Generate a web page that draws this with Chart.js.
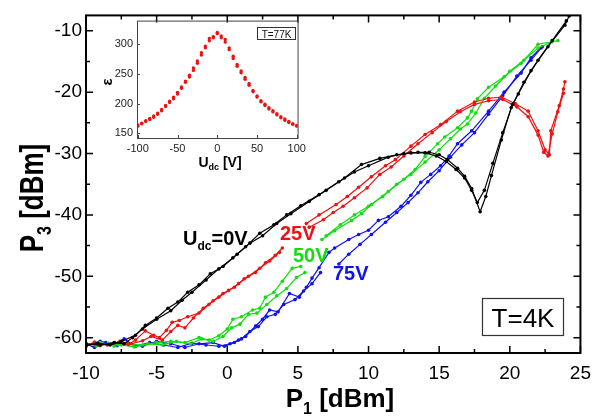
<!DOCTYPE html>
<html>
<head>
<meta charset="utf-8">
<script src="https://cdn.jsdelivr.net/npm/chart.js@4.4.0/dist/chart.umd.min.js"></script>
<style>
  body { margin: 0; background: #fff; }
  #wrap { position: relative; width: 600px; height: 419px; }
  #main { position: absolute; left: 0; top: 0; }
  #inset { position: absolute; left: 90px; top: 10px; }
</style>
</head>
<body>
<div id="wrap">
  <canvas id="main" width="600" height="419"></canvas>
  <canvas id="inset" width="220" height="165"></canvas>
</div>
<script>
// tick values
const xTicks = [-10, -5, 0, 5, 10, 15, 20, 25];
const xMinorTicks = [-7.5, -2.5, 2.5, 7.5, 12.5, 17.5, 22.5];
const yTicks = [-60, -50, -40, -30, -20, -10];
const yMinorTicks = [-55, -45, -35, -25, -15];
const insetXTicks = [-100, -50, 0, 50, 100];
const insetYTicks = [150, 200, 250, 300];

// U_dc = 0V
const blackUpX = [-10, -9, -8, -7.3, -6.7, -6, -5, -4, -3.2, -2.5, -1.5, -0.6, 0.4, 1.3, 2.3, 3.3, 4.2, 5.2, 6.5, 7.9, 9.0, 10, 11.4, 12.5, 13.5, 14.3, 15.0, 15.6, 16.3, 16.8, 17.3, 17.9, 18.3, 18.7, 19.4, 20.1, 20.6, 21.5, 22.7, 23.9, 24.2];
const blackUpY = [-61, -61.2, -60.8, -61, -60, -58.6, -57, -55.6, -53.9, -52.6, -50.6, -48.8, -47.0, -45.2, -43, -41.6, -40, -38.5, -36.7, -34.6, -33.0, -32.0, -30.6, -30.0, -29.8, -29.8, -30.2, -31, -32.4, -33.7, -35.7, -39.5, -37, -33.6, -27.8, -22.5, -20.3, -16.5, -12.6, -9.1, -7.6];
const blackDownX = [-10, -9.2, -8.3, -7.5, -6.5, -5.8, -5, -4.2, -3.5, -2.8, -2, -1.2, -0.3, 0.7, 1.6, 2.5, 3.5, 4.5, 5.8, 7.0, 8.3, 9.5, 10.8, 12.0, 13.0, 14.0, 14.8, 15.5, 16.2, 16.8, 17.3, 17.7, 18.2, 18.8, 19.5, 20.2, 21.0, 22.0, 23.0, 24.0];
const blackDownY = [-61.3, -60.9, -61.2, -60.6, -59.6, -58.0, -56.8, -55.2, -54.2, -52.6, -51.4, -49.6, -48.4, -46.4, -44.6, -43.4, -41.4, -39.8, -37.8, -36.0, -34.0, -31.8, -30.8, -30.2, -29.9, -29.9, -30.4, -31.3, -32.6, -34.0, -36.0, -38.0, -36.0, -31.6, -26.6, -22.0, -18.4, -14.8, -11.6, -8.4];

// U_dc = 25V
const redUpX = [-10, -9, -8, -7, -6.5, -5.8, -5.2, -4.8, -4.3, -3.9, -3.4, -2.8, -2.0, -1.3, -0.6, 0.1, 0.8, 1.5, 2.3, 3.0, 3.7, 4.6, 5.6, 6.5, 7.7, 8.5, 9.3, 10.2, 11.2, 11.9, 13.0, 14.0, 15.1, 16.3, 17.5, 18.5, 19.4, 20.4, 21.3, 22.0, 22.5, 22.8, 22.9, 23.5, 23.8, 23.9];
const redUpY = [-61, -61.3, -60.8, -61.1, -60.4, -58.9, -59.6, -60.0, -58.8, -57.5, -57.2, -56.6, -56.0, -54.6, -53.4, -52.3, -51.2, -50.0, -48.7, -47.5, -46.1, null, -41.4, -40.0, -38.3, -37.0, -35.5, -33.8, -32.0, -31.0, -28.8, -26.9, -25.3, -23.1, -21.6, -21.0, -20.8, -21.9, -23.1, -26.3, -29.4, -30.2, -26.3, -22.2, -19.5, -18.3];
const redDownX = [-10, -9.4, -8.5, -7.6, -6.8, -6.0, -5.4, -4.6, -4.0, -3.5, -3.0, -2.4, -1.7, -1.0, -0.3, 0.5, 1.2, 2.0, 2.7, 3.4, 3.9, 4.8, 5.8, 6.8, 7.5, 8.2, 9.0, 9.9, 10.8, 11.6, 12.5, 13.5, 14.5, 15.5, 16.5, 17.5, 18.5, 19.5, 20.5, 21.3, 22.0, 22.4, 22.7, 23.0, 23.4, 23.8];
const redDownY = [-61.4, -60.7, -61.2, -60.6, -61.0, -60.5, -59.8, -60.4, -59.0, -58.0, -58.4, -56.8, -55.2, -54.0, -52.8, -51.8, -50.4, -49.4, -47.8, -46.6, -45.4, null, -42.0, -40.8, -39.6, -38.6, -37.2, -35.6, -33.4, -32.2, -30.4, -28.4, -26.6, -24.8, -23.2, -22.0, -21.4, -21.2, -22.4, -24.0, -27.0, -29.8, -30.4, -26.8, -23.2, -20.2];

// U_dc = 50V
const greenUpX = [-10, -9, -8, -7, -6, -5, -4, -3, -2, -1.3, -0.6, 0.0, 0.4, 1.0, 1.8, 2.3, 2.7, 3.3, 3.9, 4.6, 5.2, 6.0, 6.7, 7.6, 8.8, 9.5, 10.2, 11.4, 12.5, 13.3, 14.0, 14.9, 15.4, 16.3, 17.0, 17.3, 17.7, 18.5, 19.6, 20.8, 22.0, 23.4];
const greenUpY = [-61.2, -60.8, -61.4, -61.0, -61.2, -60.8, -60.6, -60.8, -60.0, -60.4, -59.7, -58.6, -57.0, -56.6, -55.5, -55.2, -53.4, -52.6, -50.8, -48.7, -48.4, null, -44.0, -42.6, -40.9, -39.8, -38.3, -36.2, -34.2, -32.6, -30.5, -28.4, -27.3, -25.8, -24.2, -23.1, -21.1, -19.2, -17.5, -15.3, -12.2, -11.6];
const greenDownX = [-10, -9.3, -8.4, -7.5, -6.6, -5.6, -4.6, -3.6, -2.6, -1.8, -1.0, -0.3, 0.3, 0.9, 1.5, 2.1, 2.8, 3.5, 4.2, 4.9, 5.5, 6.2, 7.0, 8.0, 9.0, 10.0, 11.0, 12.0, 13.0, 14.0, 15.0, 15.8, 16.5, 17.0, 17.6, 18.2, 19.0, 20.0, 21.0, 22.0, 23.0];
const greenDownY = [-61.0, -61.3, -60.9, -61.2, -61.5, -61.0, -61.2, -60.6, -61.0, -60.2, -60.6, -59.8, -58.4, -57.8, -56.2, -56.0, -54.6, -53.2, -52.0, -50.2, -49.4, null, -43.4, -41.6, -40.0, -38.6, -37.0, -35.0, -33.4, -31.4, -29.4, -27.6, -26.0, -25.2, -23.4, -21.0, -19.0, -16.6, -14.8, -12.8, -11.8];

// U_dc = 75V
const blueUpX = [-10, -9, -8, -7.3, -6.5, -5.5, -4.5, -3.5, -2.5, -1.5, -0.6, 0.2, 0.8, 1.3, 2.0, 2.5, 3.0, 3.6, 4.4, 5.1, 5.6, 6.0, 6.5, 7.2, 7.6, 8.6, 9.3, 10.0, 10.7, 11.4, 12.3, 13.0, 13.7, 14.4, 15.1, 15.7, 16.3, 17.3, 18.5, 19.6, 20.8, 21.5, 22.2];
const blueUpY = [-61.4, -60.6, -61.0, -60.2, -61.4, -60.8, -61.2, -61.6, -60.9, -61.2, -61.4, -61.0, -60.4, -59.8, -58.1, -57.0, -55.5, -55.8, -52.8, -53.4, -51.8, -50.3, -48.6, -46.1, -45.4, -44.0, -43.2, -42.5, -40.9, -40.3, -38.6, -36.8, -34.7, -33.4, -32.0, -30.4, -28.4, -26.3, -23.1, -20.0, -16.9, -14.4, -12.8];
const blueDownX = [-10, -9.4, -8.6, -7.8, -7.0, -6.0, -5.0, -4.0, -3.0, -2.0, -1.0, -0.2, 0.5, 1.0, 1.6, 2.2, 2.8, 3.4, 4.0, 4.8, 5.4, 6.0, 6.6, 7.2, 7.9, 8.6, 9.4, 10.2, 11.2, 12.0, 12.8, 13.5, 14.2, 15.0, 15.8, 16.6, 17.5, 18.5, 19.5, 20.5, 21.5, 22.3];
const blueDownY = [-61.0, -61.6, -60.8, -61.3, -61.0, -61.4, -60.6, -61.0, -61.6, -61.0, -60.8, -61.4, -60.8, -60.2, -59.0, -58.2, -56.6, -56.2, -54.6, -53.8, -52.4, -51.2, -49.4, null, -48.0, -46.4, -44.8, -43.2, -41.2, -39.6, -38.0, -36.4, -34.6, -32.8, -30.6, -28.6, -26.6, -23.6, -20.6, -17.4, -14.8, -12.6];

// inset: permittivity vs U_dc at 77K
const insetU = [-100, -95, -90, -85, -80, -75, -70, -65, -60, -55, -50, -45, -40, -35, -30, -25, -20, -15, -10, -5, 0, 5, 10, 15, 20, 25, 30, 35, 40, 45, 50, 55, 60, 65, 70, 75, 80, 85, 90, 95, 100];
const epsUp = [162, 166, 170, 173, 177, 182, 188, 195, 202, 208, 216, 226, 238, 248, 260, 272, 286, 297, 310, 313, 320, 314, 308, 294, 280, 266, 255, 244, 234, 222, 213, 205, 199, 193, 188, 183, 178, 174, 170, 166, 162];
const epsDown = [164, 167, 171, 175, 179, 184, 190, 197, 204, 211, 219, 228, 236, 245, 256, 268, 282, 294, 306, 311, 318, 311, 304, 291, 276, 263, 252, 241, 231, 220, 211, 203, 197, 191, 186, 181, 176, 172, 168, 165, 163];

const FONT = '"Liberation Sans", Arial, sans-serif';
const RED = '#ee1111', GREEN = '#11dd11', BLUE = '#1111ee', BLACK = '#000000';

function pts(xs, ys) {
  return xs.map((x, i) => ({ x: x, y: ys[i] }));
}

function series(xs, ys, color) {
  return {
    data: pts(xs, ys),
    showLine: true,
    borderColor: color,
    backgroundColor: color,
    borderWidth: 1.2,
    pointRadius: 1.8,
    pointBorderWidth: 0,
    pointBackgroundColor: color
  };
}

// text with subscripts: parts = [text, size, dy]
function drawParts(ctx, parts, x, y, bold, align) {
  const w = parts.reduce((s, p) => {
    ctx.font = (bold ? 'bold ' : '') + p[1] + 'px ' + FONT;
    return s + ctx.measureText(p[0]).width;
  }, 0);
  let cx = align === 'center' ? x - w / 2 : x;
  ctx.textAlign = 'left';
  ctx.textBaseline = 'alphabetic';
  parts.forEach(p => {
    ctx.font = (bold ? 'bold ' : '') + p[1] + 'px ' + FONT;
    ctx.fillText(p[0], cx, y + p[2]);
    cx += ctx.measureText(p[0]).width;
  });
}

const mainDecor = {
  id: 'mainDecor',
  afterDraw(chart) {
    const { ctx, chartArea: a, scales: { x, y } } = chart;
    ctx.save();
    ctx.strokeStyle = '#000';
    ctx.lineWidth = 2;
    ctx.strokeRect(a.left, a.top, a.right - a.left, a.bottom - a.top);
    ctx.lineWidth = 1.5;
    ctx.beginPath();
    xTicks.concat(xMinorTicks).forEach(v => {
      const px = x.getPixelForValue(v);
      const len = xTicks.includes(v) ? 7 : 4;
      ctx.moveTo(px, a.bottom); ctx.lineTo(px, a.bottom - len);
      ctx.moveTo(px, a.top); ctx.lineTo(px, a.top + len);
    });
    yTicks.concat(yMinorTicks).forEach(v => {
      const py = y.getPixelForValue(v);
      const len = yTicks.includes(v) ? 7 : 4;
      ctx.moveTo(a.left, py); ctx.lineTo(a.left + len, py);
      ctx.moveTo(a.right, py); ctx.lineTo(a.right - len, py);
    });
    ctx.stroke();

    ctx.fillStyle = '#000';
    // axis titles
    drawParts(ctx, [['P', 26, 0], ['1', 16, 7], [' [dBm]', 26, 0]], 340, 407, true, 'center');
    ctx.save();
    ctx.translate(43, 198);
    ctx.rotate(-Math.PI / 2);
    ctx.scale(1, 1.3);
    drawParts(ctx, [['P', 26, 0], ['3', 16, 6], [' [dBm]', 26, 0]], 0, 0, true, 'center');
    ctx.restore();

    // curve labels
    ctx.fillStyle = BLACK;
    drawParts(ctx, [['U', 20, 0], ['dc', 12, 5], ['=0V', 20, 0]], 183, 245, true, 'left');
    ctx.fillStyle = RED;
    drawParts(ctx, [['25V', 20, 0]], 280, 240, true, 'left');
    ctx.fillStyle = GREEN;
    drawParts(ctx, [['50V', 20, 0]], 293, 262, true, 'left');
    ctx.fillStyle = BLUE;
    drawParts(ctx, [['75V', 20, 0]], 333, 280, true, 'left');

    // temperature box
    ctx.fillStyle = '#000';
    ctx.lineWidth = 1.2;
    ctx.strokeStyle = '#333';
    ctx.strokeRect(482.5, 298.5, 81, 37);
    drawParts(ctx, [['T=4K', 26, 0]], 523, 327, false, 'center');
    ctx.restore();
  }
};

new Chart(document.getElementById('main'), {
  type: 'scatter',
  data: {
    datasets: [
      series(blackUpX, blackUpY, BLACK),
      series(blackDownX, blackDownY, BLACK),
      series(redUpX, redUpY, RED),
      series(redDownX, redDownY, RED),
      series(greenUpX, greenUpY, GREEN),
      series(greenDownX, greenDownY, GREEN),
      series(blueUpX, blueUpY, BLUE),
      series(blueDownX, blueDownY, BLUE)
    ]
  },
  options: {
    responsive: false,
    animation: false,
    layout: { padding: { top: 3, right: 17, left: 0, bottom: 0 } },
    plugins: { legend: { display: false }, tooltip: { enabled: false } },
    scales: {
      x: {
        type: 'linear', min: -10, max: 25,
        afterBuildTicks: s => { s.ticks = xTicks.map(v => ({ value: v })); },
        afterFit: s => { s.height = 66; },
        grid: { display: false, drawTicks: false },
        border: { display: false },
        ticks: { color: '#000', font: { size: 19, family: FONT }, padding: 9, maxRotation: 0 }
      },
      y: {
        type: 'linear', min: -62.5, max: -7.5,
        afterBuildTicks: s => { s.ticks = yTicks.map(v => ({ value: v })); },
        afterFit: s => { s.width = 86; },
        grid: { display: false, drawTicks: false },
        border: { display: false },
        ticks: { color: '#000', font: { size: 19, family: FONT }, padding: 4 }
      }
    }
  },
  plugins: [mainDecor]
});

const insetDecor = {
  id: 'insetDecor',
  afterDraw(chart) {
    const { ctx, chartArea: a, scales: { x, y } } = chart;
    ctx.save();
    ctx.strokeStyle = '#444';
    ctx.lineWidth = 1;
    ctx.strokeRect(a.left + 0.5, a.top + 0.5, a.right - a.left, a.bottom - a.top);
    ctx.beginPath();
    insetXTicks.forEach(v => {
      const px = Math.round(x.getPixelForValue(v)) + 0.5;
      ctx.moveTo(px, a.bottom); ctx.lineTo(px, a.bottom - 3);
    });
    insetYTicks.forEach(v => {
      const py = Math.round(y.getPixelForValue(v)) + 0.5;
      ctx.moveTo(a.left, py); ctx.lineTo(a.left + 3, py);
    });
    ctx.stroke();

    ctx.fillStyle = '#000';
    drawParts(ctx, [['U', 14, 0], ['dc', 9, 3], [' [V]', 14, 0]], 130, 157, true, 'center');
    ctx.save();
    ctx.translate(22, 72);
    ctx.rotate(-Math.PI / 2);
    drawParts(ctx, [['\u03b5', 15, 0]], 0, 0, true, 'center');
    ctx.restore();

    ctx.strokeStyle = '#333';
    ctx.strokeRect(167.5, 17.5, 38, 12);
    ctx.fillStyle = '#111';
    drawParts(ctx, [['T=77K', 10, 0]], 186.5, 27.5, false, 'center');
    ctx.restore();
  }
};

function dots(us, es) {
  return {
    data: pts(us, es),
    showLine: false,
    pointRadius: 1.7,
    pointBorderWidth: 0,
    pointBackgroundColor: RED,
    backgroundColor: RED
  };
}

new Chart(document.getElementById('inset'), {
  type: 'scatter',
  data: { datasets: [dots(insetU, epsUp), dots(insetU, epsDown)] },
  options: {
    responsive: false,
    animation: false,
    layout: { padding: { top: 9, right: 11, left: 0, bottom: 0 } },
    plugins: { legend: { display: false }, tooltip: { enabled: false } },
    scales: {
      x: {
        type: 'linear', min: -101, max: 101,
        afterBuildTicks: s => { s.ticks = insetXTicks.map(v => ({ value: v })); },
        afterFit: s => { s.height = 37; },
        grid: { display: false, drawTicks: false },
        border: { display: false },
        ticks: { color: '#222', font: { size: 11, family: FONT }, padding: 4, maxRotation: 0 }
      },
      y: {
        type: 'linear', min: 142, max: 340,
        afterBuildTicks: s => { s.ticks = insetYTicks.map(v => ({ value: v })); },
        afterFit: s => { s.width = 47; },
        grid: { display: false, drawTicks: false },
        border: { display: false },
        ticks: { color: '#222', font: { size: 11, family: FONT }, padding: 4 }
      }
    }
  },
  plugins: [insetDecor]
});
</script>
</body>
</html>
